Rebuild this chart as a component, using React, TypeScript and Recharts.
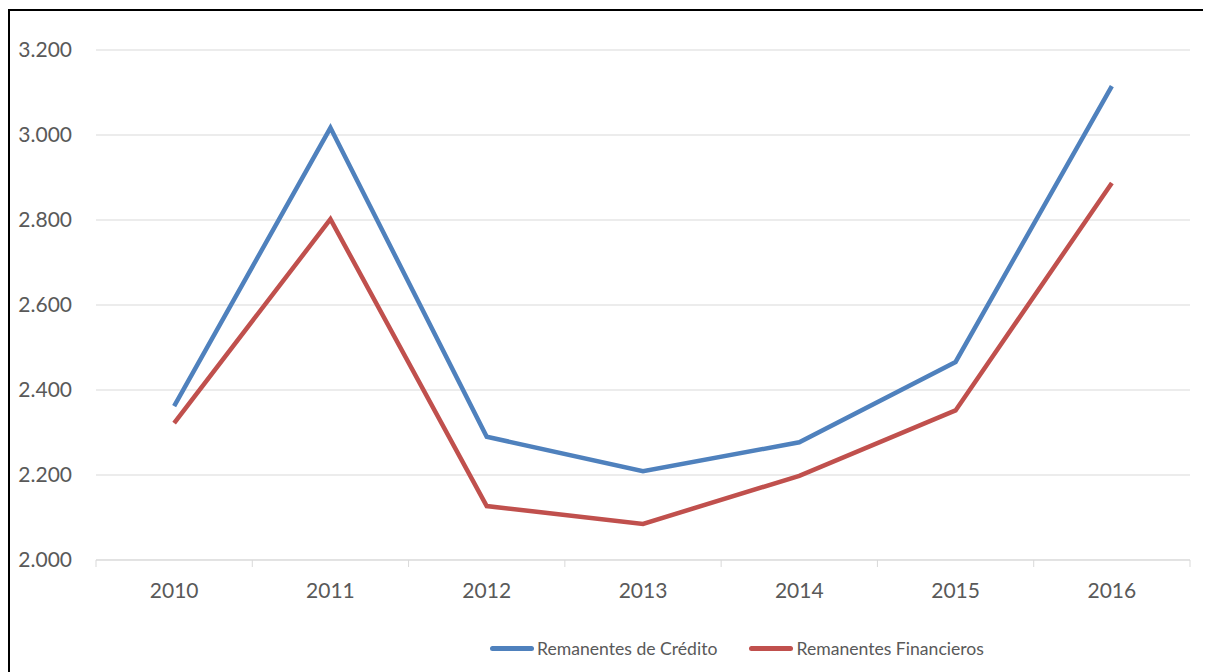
import { CartesianGrid, Line, LineChart, XAxis, YAxis } from "recharts";

const years = ["2010", "2011", "2012", "2013", "2014", "2015", "2016"];
const credito = [2362, 3017, 2290, 2209, 2277, 2466, 3115];
const financieros = [2322, 2802, 2127, 2085, 2198, 2352, 2887];
const yTicks = [2000, 2200, 2400, 2600, 2800, 3000, 3200];

const seriesInfo = [
    { key: "credito", name: "Remanentes de Crédito", color: "#4F81BD" },
    { key: "financieros", name: "Remanentes Financieros", color: "#C0504D" },
];

const FONT = "Lato, 'Open Sans', sans-serif";
const CHART_W = 1201;
const CHART_H = 662;
const MARGIN = { top: 39, right: 21, bottom: 0, left: 0 };
const Y_WIDTH = 86;
const X_HEIGHT = 113;
const band = (CHART_W - MARGIN.left - Y_WIDTH - MARGIN.right) / years.length;

const data = years.map((year, i) => ({
    year,
    credito: credito[i],
    financieros: financieros[i],
}));

const formatThousands = (v: number) => v.toLocaleString("de-DE");

const YearTick = (props: any) => {
    const { x, y, payload, index } = props;
    const left = x - band / 2;
    const right = x + band / 2;
    return (
        <g>
            <line x1={left} y1={y} x2={left} y2={y + 7} stroke="#d9d9d9" strokeWidth={1} />
            {index === years.length - 1 && (
                <line x1={right} y1={y} x2={right} y2={y + 7} stroke="#d9d9d9" strokeWidth={1} />
            )}
            <text x={x} y={y + 38} textAnchor="middle" fill="#595959" fontSize={21} fontFamily={FONT}>
                {payload.value}
            </text>
        </g>
    );
};

const LegendBox = () => (
    <div
        style={{
            position: "absolute",
            left: 480,
            top: 627,
            display: "flex",
            alignItems: "center",
            fontFamily: FONT,
            fontSize: 17.6,
            color: "#595959",
            whiteSpace: "nowrap",
        }}
    >
        {seriesInfo.map((s, i) => (
            <div key={s.key} style={{ display: "flex", alignItems: "center", marginLeft: i === 0 ? 0 : 32 }}>
                <span style={{ display: "inline-block", width: 44, height: 5, borderRadius: 3, background: s.color, marginRight: 3 }} />
                <span>{s.name}</span>
            </div>
        ))}
    </div>
);

export default function App() {
    return (
        <>
            <style>{"html, body { overflow: hidden; }"}</style>
            <div
                style={{
                    position: "relative",
                    width: CHART_W + 8,
                    height: CHART_H,
                    borderLeft: "2px solid #000",
                    borderTop: "2px solid #000",
                    background: "#fff",
                    marginTop: 1,
                }}
            >
                <LineChart width={CHART_W} height={CHART_H} data={data} margin={MARGIN}>
                    <CartesianGrid vertical={false} stroke="#d9d9d9" strokeWidth={1} />
                    <XAxis
                        dataKey="year"
                        height={X_HEIGHT}
                        axisLine={{ stroke: "#d9d9d9" }}
                        tickLine={false}
                        tickSize={0}
                        tickMargin={0}
                        interval={0}
                        padding={{ left: band / 2, right: band / 2 }}
                        tick={YearTick}
                    />
                    <YAxis
                        width={Y_WIDTH}
                        domain={[2000, 3200]}
                        ticks={yTicks}
                        axisLine={false}
                        tickLine={false}
                        tickMargin={18}
                        tickFormatter={formatThousands}
                        tick={{ fill: "#595959", fontSize: 21, fontFamily: FONT }}
                    />
                    {seriesInfo.map((s) => (
                        <Line
                            key={s.key}
                            type="linear"
                            dataKey={s.key}
                            name={s.name}
                            stroke={s.color}
                            strokeWidth={4.5}
                            dot={false}
                            activeDot={false}
                            isAnimationActive={false}
                        />
                    ))}
                </LineChart>
                <LegendBox />
            </div>
        </>
    );
}
